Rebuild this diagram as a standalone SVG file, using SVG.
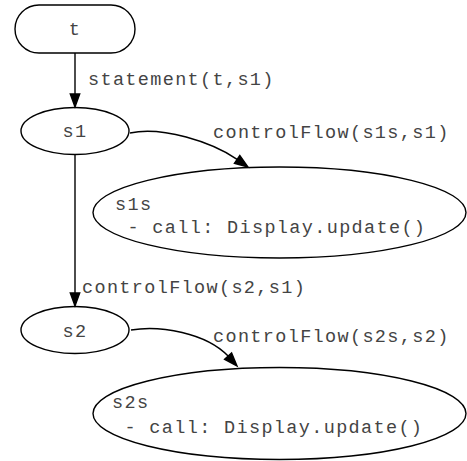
<svg xmlns="http://www.w3.org/2000/svg" width="467" height="461" viewBox="0 0 467 461">
  <style>
    .shape { fill: none; stroke: #000; stroke-width: 1.4; }
    .edge { fill: none; stroke: #000; stroke-width: 1.4; }
    .head { fill: #000; stroke: #000; stroke-width: 1.4; }
    text { font-family: "Liberation Mono", "DejaVu Sans Mono", monospace; font-size: 18.5px; letter-spacing: 1.35px; fill: #444; }
    .mid { text-anchor: middle; }
  </style>
  <rect width="467" height="461" fill="#fff"/>

  <!-- connectors -->
  <g id="edges">
    <g id="edge-t-s1">
      <path class="edge" d="M75,53 L75,94"/>
      <polygon class="head" points="70.3,94 79.7,94 75,107"/>
      <text x="88" y="85">statement(t,s1)</text>
    </g>
    <g id="edge-s1-s1s">
      <path class="edge" d="M130,133 C162,126 212,142 237.1,159.4"/>
      <polygon class="head" points="234.4,163.3 239.8,155.5 248,167"/>
      <text x="213" y="138">controlFlow(s1s,s1)</text>
    </g>
    <g id="edge-s1-s2">
      <path class="edge" d="M75,155 L75,293"/>
      <polygon class="head" points="70.3,293 79.7,293 75,306"/>
      <text x="82" y="293">controlFlow(s2,s1)</text>
    </g>
    <g id="edge-s2-s2s">
      <path class="edge" d="M131,330 C160,325 206,333 228.1,356.1"/>
      <polygon class="head" points="224.6,359.3 231.6,352.9 237,366"/>
      <text x="213" y="342">controlFlow(s2s,s2)</text>
    </g>
  </g>

  <!-- nodes -->
  <g id="node-t">
    <rect class="shape" x="15" y="5" width="120" height="48" rx="24" ry="24"/>
    <text class="mid" x="75" y="35">t</text>
  </g>
  <g id="node-s1">
    <ellipse class="shape" cx="75" cy="131" rx="54" ry="23.5"/>
    <text class="mid" x="75" y="137">s1</text>
  </g>
  <g id="node-s1s">
    <ellipse class="shape" cx="279.5" cy="212.5" rx="186.5" ry="45.5"/>
    <text x="115" y="210">s1s</text>
    <text x="115" y="233" xml:space="preserve"> - call: Display.update()</text>
  </g>
  <g id="node-s2">
    <ellipse class="shape" cx="75" cy="330" rx="54" ry="23.5"/>
    <text class="mid" x="75" y="337">s2</text>
  </g>
  <g id="node-s2s">
    <ellipse class="shape" cx="279.5" cy="413.5" rx="186.5" ry="46"/>
    <text x="112" y="408">s2s</text>
    <text x="112" y="433" xml:space="preserve"> - call: Display.update()</text>
  </g>
</svg>
